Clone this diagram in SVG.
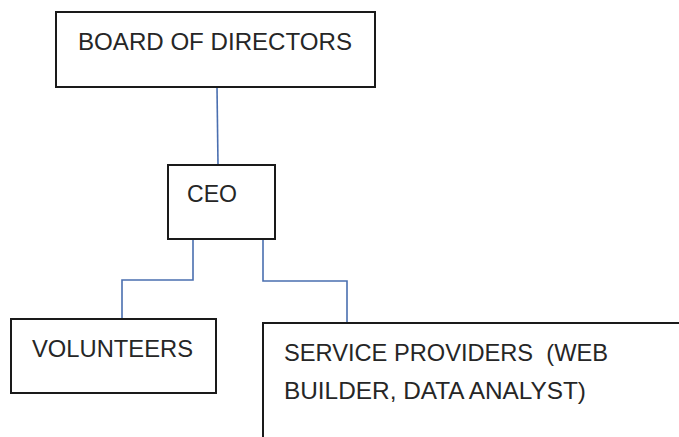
<svg xmlns="http://www.w3.org/2000/svg" width="679" height="437" viewBox="0 0 679 437">
<style>
.box{fill:#fff;stroke:#1a1a1a;stroke-width:2}
.lbl{font-family:"Liberation Sans",Arial,sans-serif;font-size:24px;fill:#262626;white-space:pre}
.conn{fill:none;stroke:#4a6fb0;stroke-width:1.6}
</style>
<rect width="679" height="437" fill="#fff"/>
<g id="connectors">
<line class="conn" x1="217" y1="87" x2="218" y2="165"/>
<polyline class="conn" points="193,239 193,280 122,280 122,319"/>
<polyline class="conn" points="263,239 263,281 347,281 347,323"/>
</g>
<g id="board">
<rect class="box" x="56" y="12" width="319" height="75"/>
<text class="lbl" x="78" y="50" textLength="274" lengthAdjust="spacingAndGlyphs">BOARD OF DIRECTORS</text>
</g>
<g id="ceo">
<rect class="box" x="168" y="165" width="107" height="74"/>
<text class="lbl" x="187" y="202" textLength="50" lengthAdjust="spacingAndGlyphs">CEO</text>
</g>
<g id="volunteers">
<rect class="box" x="11" y="319" width="205" height="74"/>
<text class="lbl" x="32" y="357" textLength="161" lengthAdjust="spacingAndGlyphs">VOLUNTEERS</text>
</g>
<g id="service">
<rect class="box" x="263" y="323" width="430" height="130"/>
<text class="lbl" x="284" y="361" textLength="324" lengthAdjust="spacingAndGlyphs" xml:space="preserve">SERVICE PROVIDERS  (WEB</text>
<text class="lbl" x="284" y="399" textLength="302" lengthAdjust="spacingAndGlyphs">BUILDER, DATA ANALYST)</text>
</g>
</svg>
